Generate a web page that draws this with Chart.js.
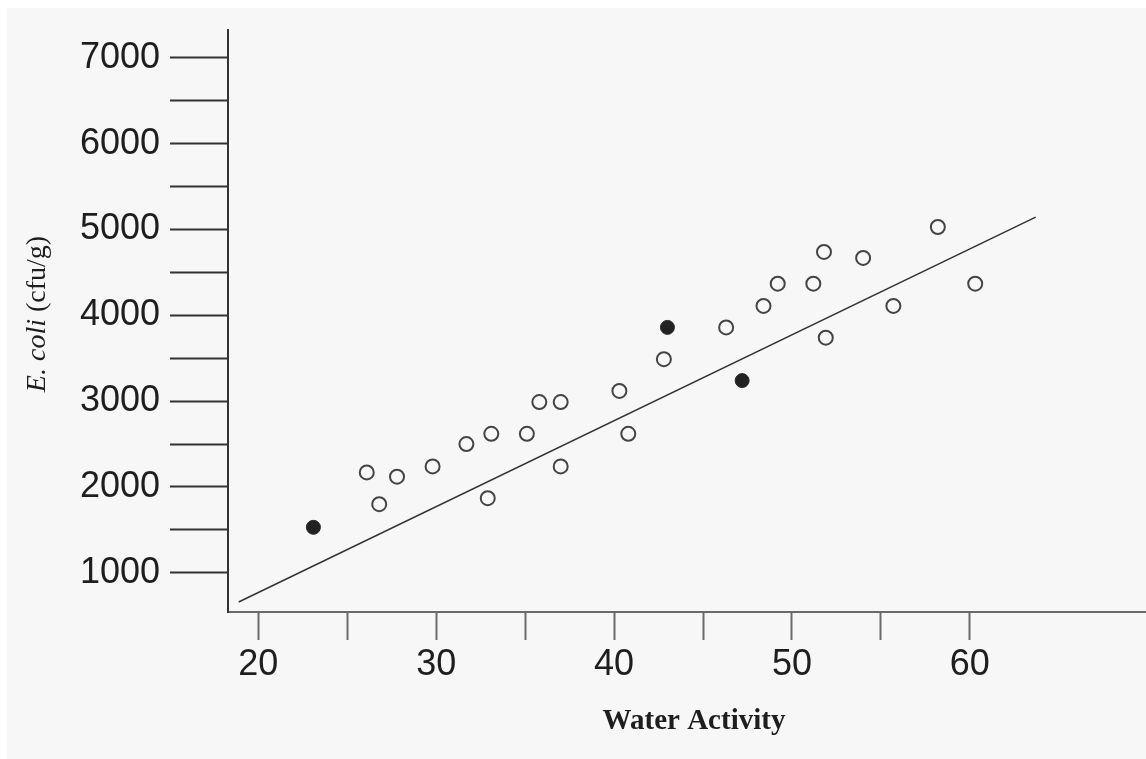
<!DOCTYPE html>
<html>
<head>
<meta charset="utf-8">
<script src="https://cdn.jsdelivr.net/npm/chart.js@4/dist/chart.umd.min.js"></script>
<style>
  html, body { margin: 0; padding: 0; background: #ffffff; }
  #wrap { width: 1146px; height: 759px; position: relative; }
</style>
</head>
<body>
<div id="wrap"><canvas id="chart"></canvas></div>
<script>
// E. coli vs water activity: open and filled samples plus the fitted line.

// open samples
const openX = [26.1, 26.8, 27.8, 29.8, 31.7, 32.9, 33.1, 35.1, 35.8, 37.0, 37.0, 40.3,
               40.8, 42.8, 46.3, 48.4, 49.2, 51.2, 51.8, 51.9, 54.0, 55.7, 58.2, 60.3];
const openY = [2170, 1800, 2120, 2240, 2500, 1870, 2620, 2620, 2990, 2990, 2240, 3120,
               2620, 3490, 3860, 4110, 4370, 4370, 4740, 3740, 4670, 4110, 5030, 4370];

// filled samples
const filledX = [23.1, 43.0, 47.2];
const filledY = [1530, 3860, 3240];

// regression line, both ends
const fitX = [18.9, 63.7];
const fitY = [660, 5145];

// axes
const xTicks = [20, 25, 30, 35, 40, 45, 50, 55, 60];
const xLabeled = [20, 30, 40, 50, 60];
const yTicks = [1000, 1500, 2000, 2500, 3000, 3500, 4000, 4500, 5000, 5500, 6000, 6500, 7000];
const yLabeled = [1000, 2000, 3000, 4000, 5000, 6000, 7000];

const xTitle = "Water Activity";
const yTitleItalic = "E. coli";
const yTitleRest = " (cfu/g)";

const pts = (xs, ys) => xs.map((x, i) => ({ x, y: ys[i] }));

// grey sheet behind the figure
const paper = {
  id: "paper",
  beforeDraw(chart) {
    const ctx = chart.ctx;
    ctx.save();
    ctx.fillStyle = "#ffffff";
    ctx.fillRect(0, 0, chart.width, chart.height);
    ctx.fillStyle = "#f7f7f7";
    ctx.fillRect(7, 8, chart.width - 7, chart.height - 8);
    ctx.restore();
  },
};

// axis titles drawn by hand (the y one has an italic part)
const titles = {
  id: "titles",
  afterDraw(chart) {
    const ctx = chart.ctx;
    ctx.save();
    ctx.fillStyle = "#1e1e1e";

    ctx.font = "bold 29px 'Liberation Serif'";
    ctx.textAlign = "center";
    ctx.textBaseline = "middle";
    ctx.fillText(xTitle, 694, 722);

    ctx.translate(45, 314);
    ctx.rotate(-Math.PI / 2);
    ctx.textAlign = "left";
    ctx.textBaseline = "alphabetic";
    const fItal = "italic 28px 'Liberation Serif'";
    const fNorm = "28px 'Liberation Serif'";
    ctx.font = fItal;
    const w1 = ctx.measureText(yTitleItalic).width;
    ctx.font = fNorm;
    const w2 = ctx.measureText(yTitleRest).width;
    const x = -(w1 + w2) / 2;
    ctx.font = fItal;
    ctx.fillText(yTitleItalic, x, 0);
    ctx.font = fNorm;
    ctx.fillText(yTitleRest, x + w1, 0);
    ctx.restore();
  },
};

new Chart(document.getElementById("chart"), {
  type: "scatter",
  data: {
    datasets: [
      {
        type: "line",
        data: pts(fitX, fitY),
        borderColor: "#333333",
        borderWidth: 1.5,
        pointRadius: 0,
        fill: false,
      },
      {
        data: pts(openX, openY),
        pointRadius: 7,
        pointBorderWidth: 2,
        borderColor: "#444444",
        backgroundColor: "rgba(0,0,0,0)",
      },
      {
        data: pts(filledX, filledY),
        pointRadius: 7,
        pointBorderWidth: 1,
        borderColor: "#2a2a2a",
        backgroundColor: "#222222",
      },
    ],
  },
  options: {
    responsive: true,
    maintainAspectRatio: false,
    animation: false,
    layout: { autoPadding: false, padding: { left: 0, right: 0, top: 30, bottom: 0 } },
    plugins: {
      legend: { display: false },
      tooltip: { enabled: false },
    },
    scales: {
      x: {
        type: "linear",
        min: 18.3,
        max: 69.9,
        afterBuildTicks: s => { s.ticks = xTicks.map(v => ({ value: v })); },
        afterFit: s => { s.height = 147; },
        ticks: {
          callback: v => (xLabeled.includes(v) ? String(v) : ""),
          font: { family: "'Liberation Sans'", size: 36, lineHeight: 1 },
          color: "#1e1e1e",
          padding: 7,
          maxRotation: 0,
          autoSkip: false,
        },
        grid: {
          drawOnChartArea: false,
          tickLength: 28,
          tickWidth: 2,
          tickColor: "#6a6a6a",
        },
        border: { color: "#6a6a6a", width: 2 },
      },
      y: {
        type: "linear",
        min: 543,
        max: 7326,
        afterBuildTicks: s => { s.ticks = yTicks.map(v => ({ value: v })); },
        afterFit: s => { s.width = 228; },
        ticks: {
          callback: v => (yLabeled.includes(v) ? String(v) : ""),
          font: { family: "'Liberation Sans'", size: 36, lineHeight: 1 },
          color: "#1e1e1e",
          padding: 10,
          autoSkip: false,
        },
        grid: {
          drawOnChartArea: false,
          tickLength: 58,
          tickWidth: 2,
          tickColor: "#333333",
        },
        border: { color: "#333333", width: 2 },
      },
    },
  },
  plugins: [paper, titles],
});
</script>
</body>
</html>
